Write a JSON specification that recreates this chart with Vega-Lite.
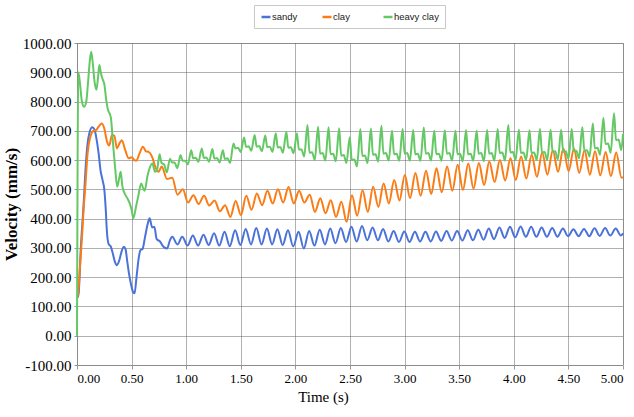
{"$schema":"https://vega.github.io/schema/vega-lite/v6.json",
"width":546,"height":322,"autosize":{"type":"none"},"padding":{"left":77,"top":43,"right":11,"bottom":52},
"background":"white",
"data":{"values":[
{"s":"sandy","t":0.005,"v":130},{"s":"sandy","t":0.015,"v":145},{"s":"sandy","t":0.035,"v":300},{"s":"sandy","t":0.06,"v":445},{"s":"sandy","t":0.08,"v":580},{"s":"sandy","t":0.095,"v":650},{"s":"sandy","t":0.115,"v":695},{"s":"sandy","t":0.14,"v":712},{"s":"sandy","t":0.16,"v":705},{"s":"sandy","t":0.175,"v":680},{"s":"sandy","t":0.198,"v":623},{"s":"sandy","t":0.215,"v":566},{"s":"sandy","t":0.235,"v":530},{"s":"sandy","t":0.25,"v":500},{"s":"sandy","t":0.262,"v":440},{"s":"sandy","t":0.275,"v":350},{"s":"sandy","t":0.29,"v":313},{"s":"sandy","t":0.31,"v":304},{"s":"sandy","t":0.325,"v":285},{"s":"sandy","t":0.345,"v":255},{"s":"sandy","t":0.365,"v":241},{"s":"sandy","t":0.385,"v":255},{"s":"sandy","t":0.41,"v":290},{"s":"sandy","t":0.427,"v":304},{"s":"sandy","t":0.445,"v":295},{"s":"sandy","t":0.458,"v":260},{"s":"sandy","t":0.475,"v":215},{"s":"sandy","t":0.495,"v":175},{"s":"sandy","t":0.51,"v":152},{"s":"sandy","t":0.527,"v":145},{"s":"sandy","t":0.545,"v":200},{"s":"sandy","t":0.565,"v":265},{"s":"sandy","t":0.582,"v":293},{"s":"sandy","t":0.6,"v":296},{"s":"sandy","t":0.622,"v":335},{"s":"sandy","t":0.645,"v":378},{"s":"sandy","t":0.665,"v":401},{"s":"sandy","t":0.688,"v":370},{"s":"sandy","t":0.708,"v":372},{"s":"sandy","t":0.73,"v":330},{"s":"sandy","t":0.76,"v":322},{"s":"sandy","t":0.79,"v":305},{"s":"sandy","t":0.825,"v":298},{"s":"sandy","t":0.85,"v":325},{"s":"sandy","t":0.872,"v":338},{"s":"sandy","t":0.92,"v":312},
{"s":"sandy","t":0.964,"v":338},{"s":"sandy","t":1.012,"v":308},{"s":"sandy","t":1.061,"v":342},{"s":"sandy","t":1.109,"v":308},{"s":"sandy","t":1.158,"v":345},{"s":"sandy","t":1.206,"v":310},{"s":"sandy","t":1.255,"v":350},{"s":"sandy","t":1.303,"v":308},{"s":"sandy","t":1.351,"v":355},{"s":"sandy","t":1.399,"v":306},{"s":"sandy","t":1.448,"v":360},{"s":"sandy","t":1.496,"v":310},{"s":"sandy","t":1.545,"v":365},{"s":"sandy","t":1.593,"v":312},{"s":"sandy","t":1.642,"v":368},{"s":"sandy","t":1.69,"v":312},{"s":"sandy","t":1.739,"v":366},{"s":"sandy","t":1.787,"v":312},{"s":"sandy","t":1.835,"v":364},{"s":"sandy","t":1.883,"v":310},{"s":"sandy","t":1.932,"v":360},{"s":"sandy","t":1.98,"v":305},{"s":"sandy","t":2.029,"v":355},{"s":"sandy","t":2.077,"v":298},{"s":"sandy","t":2.126,"v":358},{"s":"sandy","t":2.174,"v":308},{"s":"sandy","t":2.223,"v":362},{"s":"sandy","t":2.271,"v":312},{"s":"sandy","t":2.319,"v":366},{"s":"sandy","t":2.367,"v":316},{"s":"sandy","t":2.416,"v":368},{"s":"sandy","t":2.464,"v":320},{"s":"sandy","t":2.513,"v":372},{"s":"sandy","t":2.561,"v":322},{"s":"sandy","t":2.61,"v":375},{"s":"sandy","t":2.658,"v":326},{"s":"sandy","t":2.707,"v":370},{"s":"sandy","t":2.755,"v":326},{"s":"sandy","t":2.803,"v":365},{"s":"sandy","t":2.851,"v":322},{"s":"sandy","t":2.9,"v":358},{"s":"sandy","t":2.948,"v":320},{"s":"sandy","t":2.997,"v":356},{"s":"sandy","t":3.045,"v":320},{"s":"sandy","t":3.094,"v":355},{"s":"sandy","t":3.142,"v":322},{"s":"sandy","t":3.191,"v":355},{"s":"sandy","t":3.239,"v":322},{"s":"sandy","t":3.287,"v":356},{"s":"sandy","t":3.335,"v":324},{"s":"sandy","t":3.384,"v":358},{"s":"sandy","t":3.432,"v":325},{"s":"sandy","t":3.481,"v":358},{"s":"sandy","t":3.529,"v":325},{"s":"sandy","t":3.578,"v":360},{"s":"sandy","t":3.626,"v":326},{"s":"sandy","t":3.675,"v":362},{"s":"sandy","t":3.723,"v":328},{"s":"sandy","t":3.771,"v":366},{"s":"sandy","t":3.819,"v":330},{"s":"sandy","t":3.868,"v":370},{"s":"sandy","t":3.916,"v":334},{"s":"sandy","t":3.965,"v":372},{"s":"sandy","t":4.013,"v":336},{"s":"sandy","t":4.062,"v":373},{"s":"sandy","t":4.11,"v":338},{"s":"sandy","t":4.159,"v":372},{"s":"sandy","t":4.207,"v":338},{"s":"sandy","t":4.255,"v":370},{"s":"sandy","t":4.303,"v":338},{"s":"sandy","t":4.352,"v":368},{"s":"sandy","t":4.4,"v":338},{"s":"sandy","t":4.449,"v":366},{"s":"sandy","t":4.497,"v":340},{"s":"sandy","t":4.546,"v":364},{"s":"sandy","t":4.594,"v":340},{"s":"sandy","t":4.643,"v":365},{"s":"sandy","t":4.691,"v":340},{"s":"sandy","t":4.739,"v":367},{"s":"sandy","t":4.787,"v":341},{"s":"sandy","t":4.836,"v":368},{"s":"sandy","t":4.884,"v":342},{"s":"sandy","t":4.933,"v":366},{"s":"sandy","t":4.981,"v":342},{"s":"sandy","t":5.0,"v":350},
{"s":"clay","t":0.005,"v":130},{"s":"clay","t":0.015,"v":165},{"s":"clay","t":0.03,"v":250},{"s":"clay","t":0.046,"v":338},{"s":"clay","t":0.06,"v":430},{"s":"clay","t":0.076,"v":509},{"s":"clay","t":0.097,"v":623},{"s":"clay","t":0.122,"v":680},{"s":"clay","t":0.147,"v":699},{"s":"clay","t":0.177,"v":703},{"s":"clay","t":0.198,"v":714},{"s":"clay","t":0.225,"v":725},{"s":"clay","t":0.25,"v":708},{"s":"clay","t":0.275,"v":663},{"s":"clay","t":0.296,"v":650},{"s":"clay","t":0.32,"v":686},{"s":"clay","t":0.342,"v":683},{"s":"clay","t":0.366,"v":640},{"s":"clay","t":0.39,"v":658},{"s":"clay","t":0.41,"v":668},{"s":"clay","t":0.442,"v":634},{"s":"clay","t":0.473,"v":606},{"s":"clay","t":0.504,"v":610},{"s":"clay","t":0.525,"v":600},{"s":"clay","t":0.543,"v":598},{"s":"clay","t":0.573,"v":623},{"s":"clay","t":0.604,"v":646},{"s":"clay","t":0.63,"v":630},{"s":"clay","t":0.656,"v":628},{"s":"clay","t":0.687,"v":612},{"s":"clay","t":0.717,"v":577},{"s":"clay","t":0.747,"v":560},{"s":"clay","t":0.776,"v":578},{"s":"clay","t":0.824,"v":535},{"s":"clay","t":0.872,"v":540},{"s":"clay","t":0.92,"v":482},{"s":"clay","t":0.969,"v":500},{"s":"clay","t":1.017,"v":455},
{"s":"clay","t":1.066,"v":480},{"s":"clay","t":1.114,"v":450},{"s":"clay","t":1.163,"v":478},{"s":"clay","t":1.211,"v":445},{"s":"clay","t":1.26,"v":462},{"s":"clay","t":1.308,"v":425},{"s":"clay","t":1.356,"v":446},{"s":"clay","t":1.404,"v":406},{"s":"clay","t":1.453,"v":460},{"s":"clay","t":1.501,"v":412},{"s":"clay","t":1.55,"v":478},{"s":"clay","t":1.598,"v":430},{"s":"clay","t":1.647,"v":486},{"s":"clay","t":1.695,"v":446},{"s":"clay","t":1.744,"v":495},{"s":"clay","t":1.792,"v":452},{"s":"clay","t":1.84,"v":500},{"s":"clay","t":1.888,"v":455},{"s":"clay","t":1.937,"v":508},{"s":"clay","t":1.985,"v":452},{"s":"clay","t":2.034,"v":495},{"s":"clay","t":2.082,"v":455},{"s":"clay","t":2.131,"v":482},{"s":"clay","t":2.179,"v":423},{"s":"clay","t":2.228,"v":470},{"s":"clay","t":2.276,"v":418},{"s":"clay","t":2.324,"v":463},{"s":"clay","t":2.372,"v":406},{"s":"clay","t":2.421,"v":458},{"s":"clay","t":2.469,"v":389},{"s":"clay","t":2.518,"v":480},{"s":"clay","t":2.566,"v":410},{"s":"clay","t":2.615,"v":497},{"s":"clay","t":2.663,"v":423},{"s":"clay","t":2.712,"v":509},{"s":"clay","t":2.76,"v":440},{"s":"clay","t":2.808,"v":520},{"s":"clay","t":2.856,"v":452},{"s":"clay","t":2.905,"v":532},{"s":"clay","t":2.953,"v":462},{"s":"clay","t":3.002,"v":549},{"s":"clay","t":3.05,"v":470},{"s":"clay","t":3.099,"v":556},{"s":"clay","t":3.147,"v":478},{"s":"clay","t":3.196,"v":564},{"s":"clay","t":3.244,"v":484},{"s":"clay","t":3.292,"v":572},{"s":"clay","t":3.34,"v":490},{"s":"clay","t":3.389,"v":578},{"s":"clay","t":3.437,"v":495},{"s":"clay","t":3.486,"v":584},{"s":"clay","t":3.534,"v":498},{"s":"clay","t":3.583,"v":588},{"s":"clay","t":3.631,"v":502},{"s":"clay","t":3.68,"v":590},{"s":"clay","t":3.728,"v":515},{"s":"clay","t":3.776,"v":595},{"s":"clay","t":3.824,"v":525},{"s":"clay","t":3.873,"v":600},{"s":"clay","t":3.921,"v":530},{"s":"clay","t":3.97,"v":606},{"s":"clay","t":4.018,"v":532},{"s":"clay","t":4.067,"v":612},{"s":"clay","t":4.115,"v":537},{"s":"clay","t":4.164,"v":618},{"s":"clay","t":4.212,"v":543},{"s":"clay","t":4.26,"v":626},{"s":"clay","t":4.308,"v":550},{"s":"clay","t":4.357,"v":634},{"s":"clay","t":4.405,"v":560},{"s":"clay","t":4.454,"v":640},{"s":"clay","t":4.502,"v":562},{"s":"clay","t":4.551,"v":640},{"s":"clay","t":4.599,"v":556},{"s":"clay","t":4.648,"v":634},{"s":"clay","t":4.696,"v":550},{"s":"clay","t":4.744,"v":630},{"s":"clay","t":4.792,"v":548},{"s":"clay","t":4.841,"v":628},{"s":"clay","t":4.889,"v":545},{"s":"clay","t":4.938,"v":626},{"s":"clay","t":4.986,"v":540},{"s":"clay","t":5.0,"v":542},
{"s":"heavy clay","t":0,"v":0},{"s":"heavy clay","t":0.012,"v":900},{"s":"heavy clay","t":0.025,"v":870},{"s":"heavy clay","t":0.045,"v":800},{"s":"heavy clay","t":0.065,"v":782},{"s":"heavy clay","t":0.085,"v":800},{"s":"heavy clay","t":0.1,"v":860},{"s":"heavy clay","t":0.115,"v":930},{"s":"heavy clay","t":0.13,"v":970},{"s":"heavy clay","t":0.145,"v":930},{"s":"heavy clay","t":0.16,"v":870},{"s":"heavy clay","t":0.178,"v":840},{"s":"heavy clay","t":0.192,"v":880},{"s":"heavy clay","t":0.205,"v":925},{"s":"heavy clay","t":0.22,"v":895},{"s":"heavy clay","t":0.235,"v":876},{"s":"heavy clay","t":0.25,"v":860},{"s":"heavy clay","t":0.268,"v":805},{"s":"heavy clay","t":0.285,"v":770},{"s":"heavy clay","t":0.3,"v":758},{"s":"heavy clay","t":0.312,"v":740},{"s":"heavy clay","t":0.325,"v":680},{"s":"heavy clay","t":0.335,"v":634},{"s":"heavy clay","t":0.35,"v":570},{"s":"heavy clay","t":0.368,"v":509},{"s":"heavy clay","t":0.385,"v":535},{"s":"heavy clay","t":0.4,"v":560},{"s":"heavy clay","t":0.415,"v":512},{"s":"heavy clay","t":0.436,"v":486},{"s":"heavy clay","t":0.46,"v":470},{"s":"heavy clay","t":0.48,"v":455},{"s":"heavy clay","t":0.5,"v":430},{"s":"heavy clay","t":0.516,"v":401},{"s":"heavy clay","t":0.54,"v":440},{"s":"heavy clay","t":0.56,"v":475},{"s":"heavy clay","t":0.588,"v":520},{"s":"heavy clay","t":0.605,"v":505},{"s":"heavy clay","t":0.62,"v":495},{"s":"heavy clay","t":0.645,"v":545},{"s":"heavy clay","t":0.67,"v":578},{"s":"heavy clay","t":0.69,"v":588},{"s":"heavy clay","t":0.715,"v":560},{"s":"heavy clay","t":0.732,"v":565},
{"s":"heavy clay","t":0.756,"v":620},{"s":"heavy clay","t":0.774,"v":590},{"s":"heavy clay","t":0.798,"v":585},{"s":"heavy clay","t":0.822,"v":558},
{"s":"heavy clay","t":0.852,"v":605},{"s":"heavy clay","t":0.87,"v":592},{"s":"heavy clay","t":0.894,"v":592},{"s":"heavy clay","t":0.918,"v":572},
{"s":"heavy clay","t":0.949,"v":617},{"s":"heavy clay","t":0.967,"v":598},{"s":"heavy clay","t":0.991,"v":598},{"s":"heavy clay","t":1.015,"v":585},
{"s":"heavy clay","t":1.046,"v":634},{"s":"heavy clay","t":1.064,"v":606},{"s":"heavy clay","t":1.088,"v":608},{"s":"heavy clay","t":1.112,"v":594},
{"s":"heavy clay","t":1.143,"v":640},{"s":"heavy clay","t":1.161,"v":607},{"s":"heavy clay","t":1.185,"v":609},{"s":"heavy clay","t":1.209,"v":594},
{"s":"heavy clay","t":1.24,"v":638},{"s":"heavy clay","t":1.258,"v":605},{"s":"heavy clay","t":1.282,"v":607},{"s":"heavy clay","t":1.306,"v":592},
{"s":"heavy clay","t":1.336,"v":634},{"s":"heavy clay","t":1.354,"v":604},{"s":"heavy clay","t":1.378,"v":606},{"s":"heavy clay","t":1.402,"v":590},
{"s":"heavy clay","t":1.433,"v":657},{"s":"heavy clay","t":1.451,"v":640},{"s":"heavy clay","t":1.475,"v":642},{"s":"heavy clay","t":1.499,"v":628},
{"s":"heavy clay","t":1.53,"v":677},{"s":"heavy clay","t":1.548,"v":645},{"s":"heavy clay","t":1.572,"v":647},{"s":"heavy clay","t":1.596,"v":632},
{"s":"heavy clay","t":1.627,"v":686},{"s":"heavy clay","t":1.645,"v":646},{"s":"heavy clay","t":1.669,"v":648},{"s":"heavy clay","t":1.693,"v":630},
{"s":"heavy clay","t":1.724,"v":684},{"s":"heavy clay","t":1.742,"v":644},{"s":"heavy clay","t":1.766,"v":646},{"s":"heavy clay","t":1.79,"v":628},
{"s":"heavy clay","t":1.82,"v":692},{"s":"heavy clay","t":1.838,"v":643},{"s":"heavy clay","t":1.862,"v":645},{"s":"heavy clay","t":1.886,"v":625},
{"s":"heavy clay","t":1.917,"v":697},{"s":"heavy clay","t":1.935,"v":642},{"s":"heavy clay","t":1.959,"v":644},{"s":"heavy clay","t":1.983,"v":623},
{"s":"heavy clay","t":2.014,"v":692},{"s":"heavy clay","t":2.032,"v":636},{"s":"heavy clay","t":2.056,"v":636},{"s":"heavy clay","t":2.08,"v":612},
{"s":"heavy clay","t":2.111,"v":720},{"s":"heavy clay","t":2.129,"v":625},{"s":"heavy clay","t":2.153,"v":627},{"s":"heavy clay","t":2.177,"v":600},
{"s":"heavy clay","t":2.208,"v":714},{"s":"heavy clay","t":2.226,"v":622},{"s":"heavy clay","t":2.25,"v":624},{"s":"heavy clay","t":2.274,"v":598},
{"s":"heavy clay","t":2.304,"v":712},{"s":"heavy clay","t":2.322,"v":620},{"s":"heavy clay","t":2.346,"v":622},{"s":"heavy clay","t":2.37,"v":596},
{"s":"heavy clay","t":2.401,"v":709},{"s":"heavy clay","t":2.419,"v":615},{"s":"heavy clay","t":2.443,"v":617},{"s":"heavy clay","t":2.467,"v":590},
{"s":"heavy clay","t":2.498,"v":678},{"s":"heavy clay","t":2.516,"v":600},{"s":"heavy clay","t":2.54,"v":602},{"s":"heavy clay","t":2.564,"v":578},
{"s":"heavy clay","t":2.595,"v":706},{"s":"heavy clay","t":2.613,"v":614},{"s":"heavy clay","t":2.637,"v":616},{"s":"heavy clay","t":2.661,"v":590},
{"s":"heavy clay","t":2.692,"v":708},{"s":"heavy clay","t":2.71,"v":618},{"s":"heavy clay","t":2.734,"v":620},{"s":"heavy clay","t":2.758,"v":595},
{"s":"heavy clay","t":2.788,"v":717},{"s":"heavy clay","t":2.806,"v":622},{"s":"heavy clay","t":2.83,"v":624},{"s":"heavy clay","t":2.854,"v":598},
{"s":"heavy clay","t":2.885,"v":700},{"s":"heavy clay","t":2.903,"v":620},{"s":"heavy clay","t":2.927,"v":622},{"s":"heavy clay","t":2.951,"v":598},
{"s":"heavy clay","t":2.982,"v":706},{"s":"heavy clay","t":3.0,"v":622},{"s":"heavy clay","t":3.024,"v":624},{"s":"heavy clay","t":3.048,"v":598},
{"s":"heavy clay","t":3.079,"v":703},{"s":"heavy clay","t":3.097,"v":620},{"s":"heavy clay","t":3.121,"v":622},{"s":"heavy clay","t":3.145,"v":598},
{"s":"heavy clay","t":3.176,"v":711},{"s":"heavy clay","t":3.194,"v":622},{"s":"heavy clay","t":3.218,"v":624},{"s":"heavy clay","t":3.242,"v":598},
{"s":"heavy clay","t":3.272,"v":700},{"s":"heavy clay","t":3.29,"v":620},{"s":"heavy clay","t":3.314,"v":622},{"s":"heavy clay","t":3.338,"v":598},
{"s":"heavy clay","t":3.369,"v":702},{"s":"heavy clay","t":3.387,"v":622},{"s":"heavy clay","t":3.411,"v":624},{"s":"heavy clay","t":3.435,"v":598},
{"s":"heavy clay","t":3.466,"v":700},{"s":"heavy clay","t":3.484,"v":620},{"s":"heavy clay","t":3.508,"v":622},{"s":"heavy clay","t":3.532,"v":596},
{"s":"heavy clay","t":3.563,"v":703},{"s":"heavy clay","t":3.581,"v":620},{"s":"heavy clay","t":3.605,"v":622},{"s":"heavy clay","t":3.629,"v":598},
{"s":"heavy clay","t":3.66,"v":700},{"s":"heavy clay","t":3.678,"v":622},{"s":"heavy clay","t":3.702,"v":624},{"s":"heavy clay","t":3.726,"v":596},
{"s":"heavy clay","t":3.756,"v":703},{"s":"heavy clay","t":3.774,"v":622},{"s":"heavy clay","t":3.798,"v":624},{"s":"heavy clay","t":3.822,"v":598},
{"s":"heavy clay","t":3.853,"v":706},{"s":"heavy clay","t":3.871,"v":624},{"s":"heavy clay","t":3.895,"v":626},{"s":"heavy clay","t":3.919,"v":598},
{"s":"heavy clay","t":3.95,"v":720},{"s":"heavy clay","t":3.968,"v":626},{"s":"heavy clay","t":3.992,"v":628},{"s":"heavy clay","t":4.016,"v":600},
{"s":"heavy clay","t":4.047,"v":704},{"s":"heavy clay","t":4.065,"v":624},{"s":"heavy clay","t":4.089,"v":626},{"s":"heavy clay","t":4.113,"v":600},
{"s":"heavy clay","t":4.144,"v":702},{"s":"heavy clay","t":4.162,"v":624},{"s":"heavy clay","t":4.186,"v":626},{"s":"heavy clay","t":4.21,"v":600},
{"s":"heavy clay","t":4.24,"v":706},{"s":"heavy clay","t":4.258,"v":626},{"s":"heavy clay","t":4.282,"v":628},{"s":"heavy clay","t":4.306,"v":600},
{"s":"heavy clay","t":4.337,"v":704},{"s":"heavy clay","t":4.355,"v":628},{"s":"heavy clay","t":4.379,"v":630},{"s":"heavy clay","t":4.403,"v":602},
{"s":"heavy clay","t":4.434,"v":704},{"s":"heavy clay","t":4.452,"v":628},{"s":"heavy clay","t":4.476,"v":630},{"s":"heavy clay","t":4.5,"v":604},
{"s":"heavy clay","t":4.531,"v":706},{"s":"heavy clay","t":4.549,"v":630},{"s":"heavy clay","t":4.573,"v":632},{"s":"heavy clay","t":4.597,"v":606},
{"s":"heavy clay","t":4.628,"v":712},{"s":"heavy clay","t":4.646,"v":632},{"s":"heavy clay","t":4.67,"v":634},{"s":"heavy clay","t":4.694,"v":612},
{"s":"heavy clay","t":4.724,"v":725},{"s":"heavy clay","t":4.742,"v":640},{"s":"heavy clay","t":4.766,"v":642},{"s":"heavy clay","t":4.79,"v":618},
{"s":"heavy clay","t":4.821,"v":745},{"s":"heavy clay","t":4.839,"v":655},{"s":"heavy clay","t":4.863,"v":657},{"s":"heavy clay","t":4.887,"v":625},
{"s":"heavy clay","t":4.918,"v":760},{"s":"heavy clay","t":4.936,"v":668},{"s":"heavy clay","t":4.96,"v":670},{"s":"heavy clay","t":4.984,"v":634},
{"s":"heavy clay","t":5.0,"v":690}
]},
"mark":{"type":"line","interpolate":"monotone","strokeWidth":2},
"encoding":{
"x":{"field":"t","type":"quantitative","scale":{"domain":[0,5],"nice":false,"zero":false},
"axis":{"values":[0,0.5,1,1.5,2,2.5,3,3.5,4,4.5,5],"format":".2f","title":"Time (s)","labelFontSize":13,"titleFontSize":15,"titleFontWeight":"normal","titlePadding":4,"titleX":246,"titleAlign":"center","tickSize":4,"labelPadding":3}},
"y":{"field":"v","type":"quantitative","scale":{"domain":[-100,1000],"nice":false},
"axis":{"values":[-100,0,100,200,300,400,500,600,700,800,900,1000],"labelExpr":"datum.value < 0 ? '-' + format(-datum.value, '.2f') : format(datum.value, '.2f')","title":"Velocity (mm/s)","labelFontSize":15,"titleFontSize":17,"titleFontWeight":"bold","titlePadding":2,"tickSize":3,"labelPadding":3}},
"color":{"field":"s","type":"nominal","scale":{"domain":["sandy","clay","heavy clay"],"range":["#4a72d8","#fb7c14","#64c864"]},
"legend":{"title":null,"orient":"none","legendX":177,"legendY":-38,"direction":"horizontal","columns":3,"gridAlign":"all","columnPadding":0,"padding":6,"strokeColor":"#c8c8c8","fillColor":"white","symbolType":"stroke","symbolSize":81,"symbolStrokeWidth":2.5,"labelOffset":0,"labelFont":"Liberation Sans","labelFontSize":9.5,"labelColor":"#222"}}
},
"config":{
"view":{"stroke":"#b8b8b8","strokeWidth":1},
"axis":{"labelFont":"Liberation Serif","titleFont":"Liberation Serif","labelColor":"#000","titleColor":"#000","gridColor":"#606060","gridDash":[1,1],"gridWidth":1,"domain":false,"tickColor":"#999"}
}
}
